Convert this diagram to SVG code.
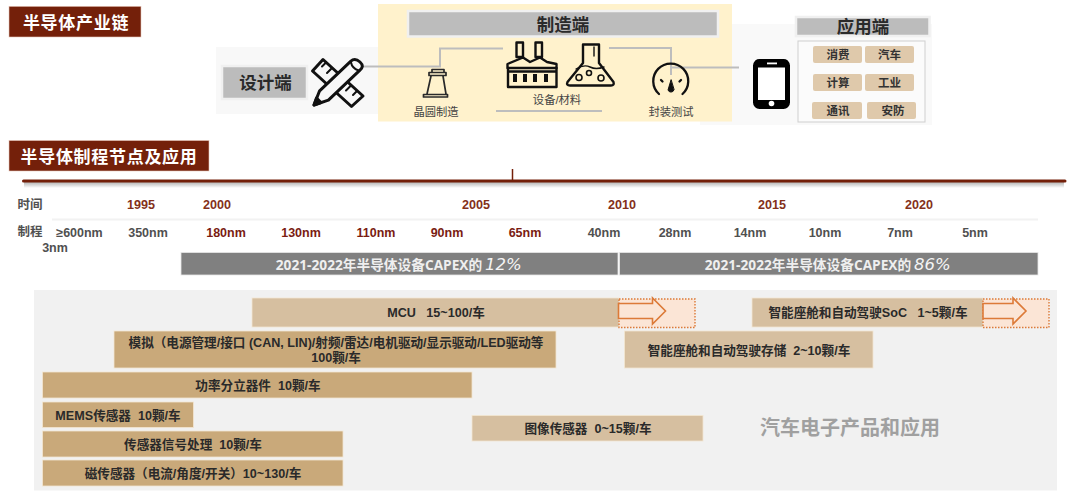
<svg xmlns="http://www.w3.org/2000/svg" width="1080" height="499" viewBox="0 0 1080 499">
<defs>
<linearGradient id="fade" x1="0" y1="0" x2="0" y2="1"><stop offset="0" stop-color="#000" stop-opacity=".3"/><stop offset="1" stop-color="#000" stop-opacity="0"/></linearGradient>
</defs>
<style>
text{font-family:"Liberation Sans","Noto Sans CJK SC",sans-serif;text-anchor:middle;fill:#262626;white-space:pre}
.title{fill:#74200a;stroke:#e8c8bb;stroke-width:.6}
.tt{fill:#fff;font-weight:700;font-size:17px;letter-spacing:.7px}
.hdr{fill:#bcbcbc;stroke:#f0f0f0;stroke-width:2.5}
.ht{font-weight:700;font-size:17.5px;fill:#2a2a2a}
.chip{fill:#dfc9ab}
.ct{font-size:11.5px;font-weight:700;fill:#333}
.sm{font-size:11.3px;fill:#444}
.yr{font-size:12.600px;font-weight:700;fill:#84301a}
.nm{font-size:12.500px;font-weight:700;fill:#505050}
.nr{font-size:12.500px;font-weight:700;fill:#7a1c12}
.lb{font-size:12.500px;font-weight:700;fill:#505050}
.cap{fill:#808080;stroke:#e6e6e6;stroke-width:.8}
.capt{font-family:"Open Sans","Noto Sans CJK SC",sans-serif;font-size:14px;font-weight:700;fill:#efefef}
.pct{font-size:16.500px;font-style:italic;fill:#f4f4f4;font-family:"DejaVu Sans",sans-serif;text-anchor:start}
.dk{fill:#c9a97a;stroke:#f3e6d2;stroke-width:.8}
.lt{fill:#d6bfa0;stroke:#f3e6d2;stroke-width:.8}
.bt{font-size:12.600px;font-weight:700;fill:#2a2a2a}
.ln{fill:none;stroke:#bdbdbd;stroke-width:2}
.ic{fill:none;stroke:#111;stroke-width:2.600;stroke-linejoin:round;stroke-linecap:round}
.dash{fill:#fbe5d6;stroke:#dc7a38;stroke-width:1.400;stroke-dasharray:1.500 1.500}
.arr{fill:#fbe5d6;stroke:#dc7a38;stroke-width:1.600}
</style>

<rect x="216" y="47" width="164" height="67" fill="#f8f8f8"/>
<rect x="700" y="24" width="232" height="101" fill="#f9f9f9"/>
<rect x="378" y="4" width="354" height="117.500" fill="#fff2cc"/>

<g id="title-chain"><rect class="title" x="9" y="6.300" width="132" height="30.700"/><text class="tt" x="76" y="28.500">半导体产业链</text></g>
<g id="title-node"><rect class="title" x="9" y="140.500" width="200" height="30.500"/><text class="tt" x="109" y="162.500">半导体制程节点及应用</text></g>

<g id="connectors">
<path class="ln" d="M363 66.500H440V48.500H503"/>
<path class="ln" d="M609 48H671V75M671 67.500H739"/>
<path class="ln" d="M496 111H602"/>
</g>

<g id="node-design">
<rect class="hdr" x="222" y="66" width="85" height="33"/>
<text class="ht" x="265.500" y="89">设计端</text>
<g id="icon-tools" class="ic" style="stroke-width:3">
<path d="M312.500 71L323 59.500 363 96 351.500 106.500Z" fill="#f8f8f8"/>
<path d="M326 62.500l-4 4M332 68l-5 5M351 85.500l-5 5M357 91l-4 4" style="stroke-width:2"/>
<path d="M319.600 90.800L350.600 61.300Q355 57.500 360 62T359.400 70.700L328.400 100.200 314 105Z" fill="#f8f8f8"/>
<path d="M314 105L316.500 98 321 102.500Z" fill="#111"/>
<path d="M351 62.500Q352 68 358.500 70.500" style="stroke-width:2"/>
</g>
</g>

<g id="node-mfg">
<rect class="hdr" x="408" y="11" width="310" height="25.500"/>
<text class="ht" x="563" y="31">制造端</text>
<g id="icon-wafer" fill="none" stroke="#2a2a2a" stroke-width="1.700" stroke-linejoin="round">
<path d="M432 72V69.500H444V72M429 72.500H446V75.500H429ZM431 76L427 94M443 76L446 94M423.500 94.500H447.500V97H423.500Z"/>
</g>
<text class="sm" x="436" y="115.500">晶圆制造</text>
<g id="icon-factory" class="ic" style="stroke-width:2.400">
<path d="M516.500 42.500H523V57H516.500ZM535.500 42.500H542V57H535.500Z"/>
<path d="M507.500 64L523 57.500 530 62 540 57.500 547 62 556.500 64V68H507.500Z"/>
<path d="M508 68V87H556.500V68M508 71.500H556.500"/>
<path d="M515 74V82M525 74V82M535 74V82M546 74V82" style="stroke-width:4;stroke-linecap:butt"/>
</g>
<g id="icon-flask" class="ic" style="stroke-width:2.400">
<path d="M583 44.500H599V63L613.500 82Q614.500 85.500 611 85.500H570Q566 85.500 567.500 82L583 63Z"/>
<circle cx="579" cy="77.500" r="3" style="stroke-width:1.600"/><circle cx="589" cy="73" r="2.500" style="stroke-width:1.600"/><circle cx="601" cy="78" r="3" style="stroke-width:1.600"/>
<path d="M576 69Q584 64 590 67T604 67M594 47V56" style="stroke-width:1.400"/>
</g>
<text class="sm" x="557" y="104">设备/材料</text>
<g id="icon-gauge" class="ic" style="stroke-width:2.300">
<path d="M659 94A17.500 17.500 0 1 1 682.500 94"/>
<path d="M671 80L668 90A3.200 3.200 0 0 0 674 90Z" fill="#111" style="stroke-width:1"/>
<path d="M661 80l1.500 1.500M681 80l-1.500 1.500"/>
</g>
<text class="sm" x="671" y="115.500">封装测试</text>
</g>

<g id="node-app">
<rect class="hdr" x="796" y="17" width="133.500" height="19"/>
<text class="ht" x="863" y="33">应用端</text>
<g id="icon-phone">
<rect x="755.500" y="61.500" width="32" height="45" rx="4" fill="#fff" stroke="#000" stroke-width="5"/>
<rect x="755" y="59.500" width="33" height="8" rx="3" fill="#000"/>
<rect x="755" y="100" width="33" height="8" rx="3" fill="#000"/>
<rect x="767" y="62.500" width="10" height="1.800" fill="#fff"/>
<circle cx="771.500" cy="103.500" r="2.800" fill="#fff"/>
</g>
<rect x="798" y="41" width="127" height="81" fill="#fbfbfb" stroke="#cfcfcf" stroke-width="1"/>
<rect class="chip" x="813" y="46" width="49" height="17" rx="2"/><text class="ct" x="838" y="59">消费</text>
<rect class="chip" x="865" y="46" width="49" height="17" rx="2"/><text class="ct" x="889.500" y="59">汽车</text>
<rect class="chip" x="813" y="74" width="49" height="17" rx="2"/><text class="ct" x="838" y="87">计算</text>
<rect class="chip" x="865" y="74" width="49" height="17" rx="2"/><text class="ct" x="889.500" y="87">工业</text>
<rect class="chip" x="812" y="102" width="50" height="17" rx="2"/><text class="ct" x="838" y="115">通讯</text>
<rect class="chip" x="867" y="102" width="49" height="17" rx="2"/><text class="ct" x="893" y="115">安防</text>
</g>

<g id="timeline">
<rect x="24" y="182" width="1040" height="6" fill="url(#fade)"/>
<path d="M23.500 181H1065" stroke="#74200a" stroke-width="3" stroke-linecap="round"/>
<path d="M512.500 169V181" stroke="#74200a" stroke-width="1.500"/>
<rect x="52" y="218.500" width="986" height="2" fill="#f2f2f2"/>
<text class="lb" x="30" y="209">时间</text>
<text class="yr" x="141" y="209">1995</text><text class="yr" x="217" y="209">2000</text><text class="yr" x="476" y="209">2005</text><text class="yr" x="622" y="209">2010</text><text class="yr" x="772" y="209">2015</text><text class="yr" x="919" y="209">2020</text>
<text class="lb" x="30" y="236">制程</text>
<text class="nm" x="79.500" y="236.500">≥600nm</text>
<text class="nm" x="55" y="252">3nm</text>
<text class="nm" x="148" y="236.500">350nm</text>
<text class="nr" x="226" y="236.500">180nm</text><text class="nr" x="301" y="236.500">130nm</text><text class="nr" x="376" y="236.500">110nm</text><text class="nr" x="447" y="236.500">90nm</text><text class="nr" x="525" y="236.500">65nm</text>
<text class="nm" x="604" y="236.500">40nm</text><text class="nm" x="675" y="236.500">28nm</text><text class="nm" x="750" y="236.500">14nm</text><text class="nm" x="825" y="236.500">10nm</text><text class="nm" x="900" y="236.500">7nm</text><text class="nm" x="975" y="236.500">5nm</text>
</g>

<g id="capex">
<rect class="cap" x="181" y="252.500" width="437" height="22.500"/>
<rect class="cap" x="619.500" y="252.500" width="418.500" height="22.500"/>
<text class="capt" x="379" y="270" style="font-size:13.700px">2021-2022年半导体设备CAPEX的</text><text class="pct" x="485" y="270">12%</text>
<text class="capt" x="808" y="270" style="font-size:13.700px">2021-2022年半导体设备CAPEX的</text><text class="pct" x="914" y="270">86%</text>
</g>

<rect x="34" y="290" width="1023" height="200.500" fill="#f1f1f1"/>

<g id="bar-mcu"><rect class="lt" x="252" y="298" width="367" height="29"/><text class="bt" x="436" y="317">MCU   15~100/车</text></g>
<g id="arrow-mcu"><rect class="dash" x="619" y="299" width="76" height="28.500"/><path class="arr" d="M618.500 303.500H652.500V298L665.500 311 652.500 324V318.500H618.500Z"/></g>
<g id="bar-analog"><rect class="dk" x="114" y="331" width="442" height="37"/><text class="bt" x="336" y="347">模拟（电源管理/接口 (CAN, LIN)/射频/雷达/电机驱动/显示驱动/LED驱动等</text><text class="bt" x="336" y="362">100颗/车</text></g>
<g id="bar-power"><rect class="dk" x="42.500" y="372" width="429.500" height="26"/><text class="bt" x="258" y="389.500">功率分立器件  10颗/车</text></g>
<g id="bar-mems"><rect class="dk" x="42.500" y="402" width="151" height="25.500"/><text class="bt" x="118" y="419.500">MEMS传感器  10颗/车</text></g>
<g id="bar-signal"><rect class="dk" x="42.500" y="431" width="300.500" height="26"/><text class="bt" x="193" y="448.500">传感器信号处理  10颗/车</text></g>
<g id="bar-mag"><rect class="dk" x="42.500" y="460" width="300.500" height="26"/><text class="bt" x="193" y="477.500">磁传感器（电流/角度/开关）10~130/车</text></g>
<g id="bar-image"><rect class="lt" x="472" y="415.500" width="231" height="25.500"/><text class="bt" x="588" y="432.500">图像传感器  0~15颗/车</text></g>
<g id="bar-soc"><rect class="lt" x="752" y="298" width="231" height="29"/><text class="bt" x="868" y="317">智能座舱和自动驾驶SoC   1~5颗/车</text></g>
<g id="arrow-soc"><rect class="dash" x="983" y="299" width="66" height="28.500"/><path class="arr" d="M983 303.500H1013V298L1026 311 1013 324V318.500H983Z"/></g>
<g id="bar-mem"><rect class="lt" x="624.500" y="331" width="248.500" height="37"/><text class="bt" x="749" y="354.500">智能座舱和自动驾驶存储  2~10颗/车</text></g>
<text x="850" y="435" style="font-size:20px;font-weight:700;fill:#a0a0a0">汽车电子产品和应用</text>
</svg>
